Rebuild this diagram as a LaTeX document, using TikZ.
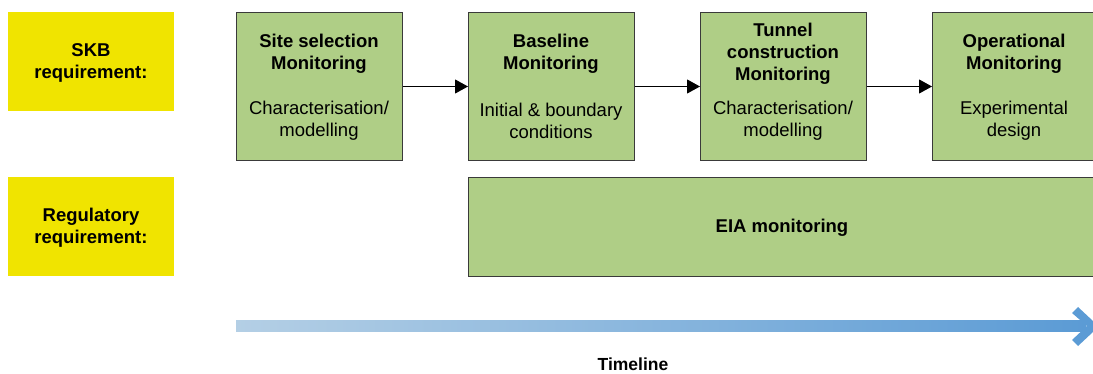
\documentclass[tikz,border=0pt]{standalone}
\usepackage{fontspec}
\setmainfont{Liberation Sans}
\usetikzlibrary{arrows.meta}
\definecolor{boxgreen}{HTML}{AFCE86}
\definecolor{boxyellow}{HTML}{F0E400}
\definecolor{edgegray}{HTML}{3A3A3A}
\definecolor{tlight}{HTML}{B4CFE5}
\definecolor{tdark}{HTML}{5B9BD5}
\begin{document}
\begin{tikzpicture}[x=1pt,y=-1pt,
  req/.style={fill=boxyellow,draw=none,minimum width=166pt,minimum height=99pt,inner sep=0pt,anchor=north west},
  stage/.style={fill=boxgreen,draw=edgegray,line width=1pt,minimum width=166pt,minimum height=148pt,inner sep=0pt,anchor=north west},
  lbl/.style={font=\fontsize{18.5}{22}\selectfont\bfseries,align=center,inner sep=0pt},
  body/.style={font=\fontsize{18.5}{22}\selectfont,align=center,inner sep=0pt},
  flow/.style={-{Triangle[length=13pt,width=14pt]},line width=1pt,black}]
\useasboundingbox (0,0) rectangle (1093,374);
% requirement boxes
\node[req] (skb) at (8,12) {};
\node[lbl] (skbt) at (91,63) {SKB\\requirement:};
\node[req] (reg) at (8,177) {};
\node[lbl] (regt) at (91,228) {Regulatory\\requirement:};
% stages
\node[stage] (s1) at (236,12) {};
\node[stage] (s2) at (468,12) {};
\node[stage] (s3) at (700,12) {};
\node[stage,minimum width=170pt] (s4) at (932,12) {};
\node[lbl] (s1t) at (319,54) {Site selection\\Monitoring};
\node[body] (s1b) at (319,121) {Characterisation/\\modelling};
\node[lbl] (s2t) at (551,54) {Baseline\\Monitoring};
\node[body] (s2b) at (551,121) {Initial \& boundary\\conditions};
\node[lbl] (s3t) at (783,54) {Tunnel\\construction\\Monitoring};
\node[body] (s3b) at (783,121) {Characterisation/\\modelling};
\node[lbl] (s4t) at (1014,54) {Operational\\Monitoring};
\node[body] (s4b) at (1014,121) {Experimental\\design};
\draw[flow] (s1.east) -- (s2.west);
\draw[flow] (s2.east) -- (s3.west);
\draw[flow] (s3.east) -- (s4.west);
% EIA
\node[stage,minimum width=634pt,minimum height=99pt] (eia) at (468,177) {};
\node[lbl] (eiat) at (782,228) {EIA monitoring};
% timeline
\coordinate (tl0) at (236,326);
\coordinate (tl1) at (1086,326);
\shade[left color=tlight,right color=tdark] (236,320.5) rectangle (1086,331);
\fill[tdark] (1072,313) -- (1078,307) -- (1093,321) -- (1093,332) -- (1078,346) -- (1072,340) -- (1087,326) -- cycle;
\node[lbl,font=\fontsize{17.5}{21}\selectfont\bfseries] (tlt) at (633,364) {Timeline};
\end{tikzpicture}
\end{document}
